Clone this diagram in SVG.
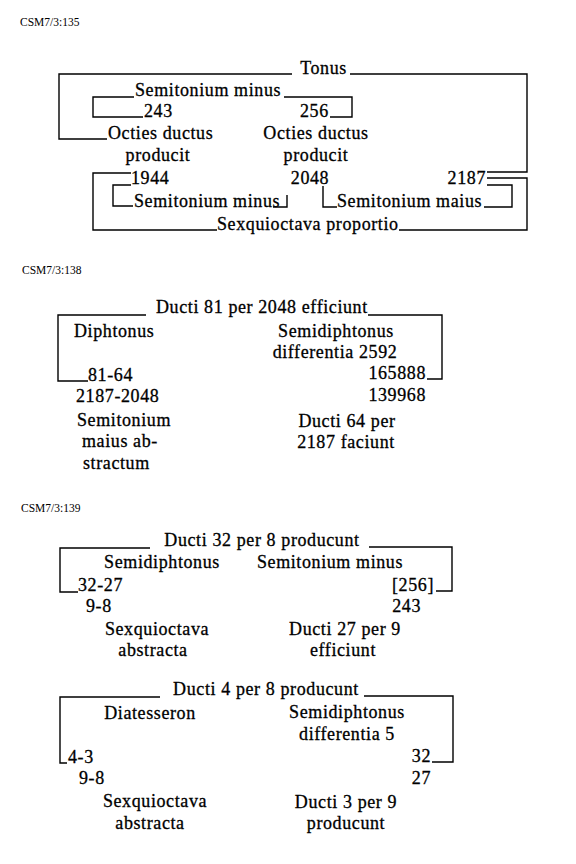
<svg xmlns="http://www.w3.org/2000/svg" width="576" height="864" viewBox="0 0 576 864">
<style>
.t{font-family:"Liberation Serif","Times New Roman",serif;font-size:18px;letter-spacing:0.6px;fill:#000;stroke:#000;stroke-width:0.3}
.m{text-anchor:middle}
.e{text-anchor:end}
.lab{font-family:"Liberation Serif",serif;font-size:11.5px;fill:#000}
.c{fill:none;stroke:#000;stroke-width:1.4}
</style>
<rect width="576" height="864" fill="#fff"/>
<g id="labels">
<text id="lab1" class="lab" x="20" y="26">CSM7/3:135</text>
<text id="lab2" class="lab" x="22" y="274">CSM7/3:138</text>
<text id="lab3" class="lab" x="21" y="512">CSM7/3:139</text>
</g>
<g id="connectors">
<polyline class="c" points="292,74 59,74 59,139 107,139"/>
<polyline class="c" points="350,74 527,74 527,172 487,172"/>
<polyline class="c" points="134,97 93,97 93,117 143,117"/>
<polyline class="c" points="284,97 352,97 352,117 330,117"/>
<polyline class="c" points="131,173 93,173 93,230 217,230"/>
<polyline class="c" points="131,185 113,185 113,206 133,206"/>
<polyline class="c" points="273,207 287,207 287,195"/>
<polyline class="c" points="323,186 323,207 337,207"/>
<polyline class="c" points="484,207 512,207 512,185 487,185"/>
<polyline class="c" points="399,230 527,230 527,178 487,178"/>
<polyline class="c" points="146,315 58,315 58,381 88,381"/>
<polyline class="c" points="368,315 442,315 442,379 427,379"/>
<polyline class="c" points="150,548 60,548 60,592 78,592"/>
<polyline class="c" points="369,547 452,547 452,591 436,591"/>
<polyline class="c" points="160,697 60,697 60,763 67,763"/>
<polyline class="c" points="364,696 453,696 453,762 432,762"/>
</g>
<g id="diagram1">
<text id="d1-tonus" class="t m" x="323.5" y="74">Tonus</text>
<text id="d1-semmin1" class="t" x="135" y="96">Semitonium minus</text>
<text id="d1-243" class="t" x="144" y="117">243</text>
<text id="d1-256" class="t" x="300" y="117">256</text>
<text id="d1-oct1" class="t" x="108" y="139">Octies ductus</text>
<text id="d1-prod1" class="t m" x="158" y="161">producit</text>
<text id="d1-oct2" class="t m" x="316" y="139">Octies ductus</text>
<text id="d1-prod2" class="t m" x="316" y="161">producit</text>
<text id="d1-1944" class="t" x="131" y="184">1944</text>
<text id="d1-2048" class="t m" x="310" y="184">2048</text>
<text id="d1-2187" class="t e" x="486" y="184">2187</text>
<text id="d1-semmin2" class="t" x="134" y="207">Semitonium minus</text>
<text id="d1-semmai" class="t" x="337" y="207">Semitonium maius</text>
<text id="d1-sexq" class="t" x="217" y="230">Sexquioctava proportio</text>
</g>
<g id="diagram2">
<text id="d2-title" class="t" x="156" y="313">Ducti 81 per 2048 efficiunt</text>
<text id="d2-diph" class="t" x="74" y="337">Diphtonus</text>
<text id="d2-8164" class="t" x="88" y="381">81-64</text>
<text id="d2-2187" class="t" x="76" y="402">2187-2048</text>
<text id="d2-sem" class="t" x="77" y="426">Semitonium</text>
<text id="d2-maius" class="t" x="82" y="447">maius ab-</text>
<text id="d2-strac" class="t" x="83" y="469">stractum</text>
<text id="d2-semid" class="t m" x="336" y="337">Semidiphtonus</text>
<text id="d2-diff" class="t m" x="335" y="358">differentia 2592</text>
<text id="d2-165888" class="t e" x="426" y="379">165888</text>
<text id="d2-139968" class="t e" x="426" y="401">139968</text>
<text id="d2-ducti64" class="t m" x="347" y="427">Ducti 64 per</text>
<text id="d2-fac" class="t m" x="346" y="448">2187 faciunt</text>
</g>
<g id="diagram3">
<text id="d3-title" class="t m" x="262" y="546">Ducti 32 per 8 producunt</text>
<text id="d3-semid" class="t m" x="162" y="568">Semidiphtonus</text>
<text id="d3-semmin" class="t m" x="330" y="568">Semitonium minus</text>
<text id="d3-3227" class="t" x="78" y="591">32-27</text>
<text id="d3-256" class="t e" x="434" y="591">[256]</text>
<text id="d3-98" class="t" x="86" y="612">9-8</text>
<text id="d3-243" class="t e" x="421" y="612">243</text>
<text id="d3-sexq" class="t m" x="157" y="635">Sexquioctava</text>
<text id="d3-abs" class="t m" x="153" y="656">abstracta</text>
<text id="d3-ducti27" class="t m" x="345" y="635">Ducti 27 per 9</text>
<text id="d3-eff" class="t m" x="343" y="656">efficiunt</text>
</g>
<g id="diagram4">
<text id="d4-title" class="t m" x="266" y="695">Ducti 4 per 8 producunt</text>
<text id="d4-diat" class="t m" x="150" y="719">Diatesseron</text>
<text id="d4-semid" class="t m" x="347" y="718">Semidiphtonus</text>
<text id="d4-diff" class="t m" x="347" y="740">differentia 5</text>
<text id="d4-43" class="t" x="68" y="763">4-3</text>
<text id="d4-32" class="t e" x="431" y="762">32</text>
<text id="d4-98" class="t" x="79" y="784">9-8</text>
<text id="d4-27" class="t e" x="431" y="784">27</text>
<text id="d4-sexq" class="t m" x="155" y="807">Sexquioctava</text>
<text id="d4-abs" class="t m" x="150" y="829">abstracta</text>
<text id="d4-ducti3" class="t m" x="346" y="808">Ducti 3 per 9</text>
<text id="d4-prod" class="t m" x="346" y="829">producunt</text>
</g>
</svg>
